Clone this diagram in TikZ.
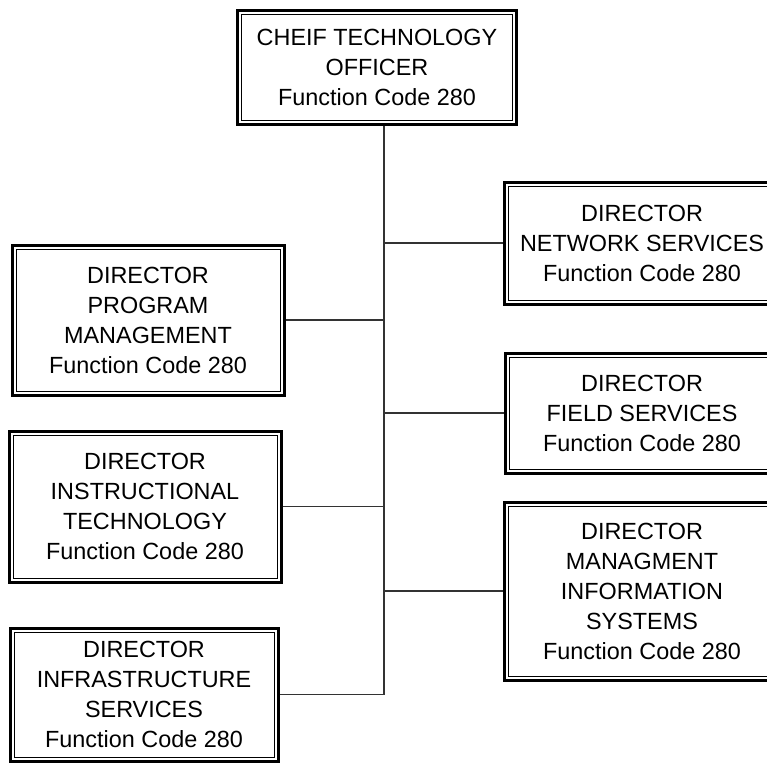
\documentclass[tikz,border=0pt]{standalone}
\usepackage{fontspec}
\setmainfont{Liberation Sans}
\begin{document}
\begin{tikzpicture}[x=1pt,y=-1pt,
  orgbox/.style={draw, line width=3pt, align=center, inner sep=0pt,
    font=\fontsize{23.4}{30}\selectfont},
  innerframe/.style={draw, line width=1pt},
  link/.style={draw, line width=1.2pt, black!80}]
  \useasboundingbox (0,0) rectangle (767,763);
  \clip (0,0) rectangle (767,763);

  % executive box
  \node[orgbox, minimum width=279pt, minimum height=114pt] (cto) at (377,67)
    {CHEIF TECHNOLOGY\\OFFICER\\Function Code 280};

  % directors on the right
  \node[orgbox, minimum width=276pt, minimum height=122pt] (net) at (642,243)
    {DIRECTOR\\NETWORK SERVICES\\Function Code 280};
  \node[orgbox, minimum width=274pt, minimum height=120pt] (field) at (642,413)
    {DIRECTOR\\FIELD SERVICES\\Function Code 280};
  \node[orgbox, minimum width=276pt, minimum height=178pt] (mis) at (642,591)
    {DIRECTOR\\MANAGMENT\\INFORMATION\\SYSTEMS\\Function Code 280};

  % directors on the left
  \node[orgbox, minimum width=272pt, minimum height=150pt] (prog) at (148,320)
    {DIRECTOR\\PROGRAM\\MANAGEMENT\\Function Code 280};
  \node[orgbox, minimum width=272pt, minimum height=151pt] (instr) at (145,506.5)
    {DIRECTOR\\INSTRUCTIONAL\\TECHNOLOGY\\Function Code 280};
  \node[orgbox, minimum width=268pt, minimum height=133pt] (infra) at (144,694.5)
    {DIRECTOR\\INFRASTRUCTURE\\SERVICES\\Function Code 280};

  % thin inner frame of every box
  \foreach \n in {cto,net,field,mis,prog,instr,infra}
    \draw[innerframe] ([shift={(5.5,5.5)}]\n.north west)
      rectangle ([shift={(-5.5,-5.5)}]\n.south east);

  % trunk and branches
  \coordinate (trunkbot) at (384,694.5);
  \draw[link] (cto.south -| trunkbot) -- (trunkbot) -- (infra.east);
  \foreach \n in {net,field,mis}
    \draw[link] (\n.west -| trunkbot) -- (\n.west);
  \foreach \n in {prog,instr}
    \draw[link] (\n.east) -- (\n.east -| trunkbot);
\end{tikzpicture}
\end{document}
